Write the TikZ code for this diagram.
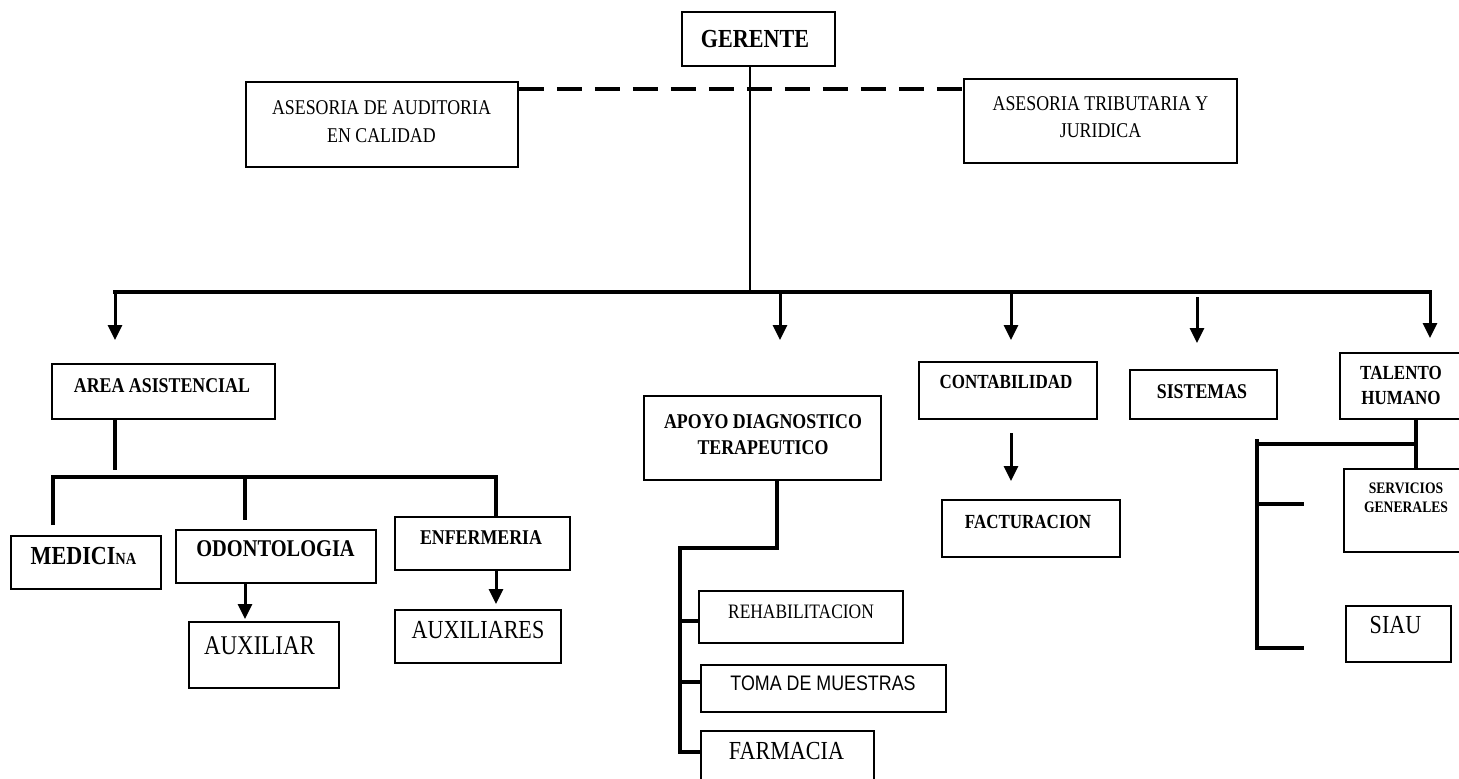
\documentclass[tikz,border=0pt]{standalone}
\usepackage{fontspec}
\setmainfont{Liberation Serif}[FakeStretch=0.85]
\newfontfamily\sansc{Liberation Sans}[FakeStretch=0.85]
\usetikzlibrary{arrows.meta,fit}
\newcommand\fsz[2]{\fontsize{#1}{#2}\selectfont}
\begin{document}
\begin{tikzpicture}[x=1pt,y=-1pt,
  box/.style={draw,line width=1.6pt,inner sep=0pt},
  lbl/.style={inner sep=0pt,align=center},
  conn/.style={line width=3.5pt,line join=miter},
  bus/.style={line width=4pt,line cap=rect,line join=miter},
  thinln/.style={line width=2pt},
  arr/.style={line width=3pt,-{Triangle[width=14pt,length=15pt]}},
  dashln/.style={line width=4.5pt,dash pattern=on 25pt off 13pt}]
\useasboundingbox (0,0) rectangle (1459,779);
\clip (0,0) rectangle (1459,779);
\fill[white] (0,0) rectangle (1459,779);

% boxes and labels
\node[box,fit={(682,12)(835,66)}] (ger) {};
\node[lbl,font=\bfseries\fsz{26}{30}] (ger-t) at (755,39) {GERENTE};
\node[box,fit={(246,82)(518,167)}] (aud) {};
\node[lbl,font=\fsz{21}{28}] (aud-t) at (381.5,122) {ASESORIA DE AUDITORIA\\EN CALIDAD};
\node[box,fit={(964,79)(1237,163)}] (trib) {};
\node[lbl,font=\fsz{21}{27}] (trib-t) at (1100.5,117.5) {ASESORIA TRIBUTARIA Y\\JURIDICA};
\node[box,fit={(52,364)(275,419)}] (area) {};
\node[lbl,font=\bfseries\fsz{21}{25}] (area-t) at (162,386) {AREA ASISTENCIAL};
\node[box,fit={(11,536)(161,589)}] (med) {};
\node[lbl,font=\bfseries\fsz{26}{30}] (med-t) at (83.5,556) {MEDICI{\fsz{17}{20}NA}};
\node[box,fit={(176,530)(376,583)}] (odo) {};
\node[lbl,font=\bfseries\fsz{24}{30}] (odo-t) at (275.5,549) {ODONTOLOGIA};
\node[box,fit={(395,517)(570,570)}] (enf) {};
\node[lbl,font=\bfseries\fsz{21}{25}] (enf-t) at (481,538) {ENFERMERIA};
\node[box,fit={(189,622)(339,688)}] (aux) {};
\node[lbl,font=\fsz{27}{30}] (aux-t) at (259.5,646) {AUXILIAR};
\node[box,fit={(395,610)(561,663)}] (auxs) {};
\node[lbl,font=\fsz{26}{30}] (auxs-t) at (478,630) {AUXILIARES};
\node[box,fit={(644,396)(881,480)}] (apo) {};
\node[lbl,font=\bfseries\fsz{21}{26}] (apo-t) at (763,435) {APOYO DIAGNOSTICO\\TERAPEUTICO};
\node[box,fit={(919,362)(1097,419)}] (cont) {};
\node[lbl,font=\bfseries\fsz{20}{24}] (cont-t) at (1006,382) {CONTABILIDAD};
\node[box,fit={(1130,370)(1277,419)}] (sis) {};
\node[lbl,font=\bfseries\fsz{21}{25}] (sis-t) at (1202,392) {SISTEMAS};
\node[box,fit={(1340,353)(1463,419)}] (tal) {};
\node[lbl,font=\bfseries\fsz{20}{25}] (tal-t) at (1401,385.5) {TALENTO\\HUMANO};
\node[box,fit={(942,500)(1120,557)}] (fac) {};
\node[lbl,font=\bfseries\fsz{20}{24}] (fac-t) at (1028,522) {FACTURACION};
\node[box,fit={(1344,469)(1463,552)}] (serv) {};
\node[lbl,font=\bfseries\fsz{16}{19}] (serv-t) at (1406,497.5) {SERVICIOS\\GENERALES};
\node[box,fit={(1346,606)(1451,662)}] (siau) {};
\node[lbl,font=\fsz{26}{30}] (siau-t) at (1395.5,625) {SIAU};
\node[box,fit={(699,591)(903,643)}] (reh) {};
\node[lbl,font=\fsz{20.5}{24}] (reh-t) at (801,612) {REHABILITACION};
\node[box,fit={(701,665)(946,712)}] (toma) {};
\node[lbl,font=\sansc\fsz{21}{24}] (toma-t) at (823,683) {TOMA DE MUESTRAS};
\node[box,fit={(701,731)(874,800)}] (farm) {};
\node[lbl,font=\fsz{26}{30}] (farm-t) at (786.5,751) {FARMACIA};

% trunk and advisory dashed line
\coordinate (tk) at (750,292);
\draw[thinln] (ger.south -| tk) -- (tk);
\coordinate (dy) at (0,89);
\draw[dashln] (aud.east |- dy) -- (trib.west |- dy);

% main bus and arrows
\coordinate (b1) at (115,292);
\coordinate (b2) at (780,292);
\coordinate (b3) at (1011,292);
\coordinate (b4) at (1197,297);
\coordinate (b5) at (1430,292);
\coordinate (e1) at (115,340);
\coordinate (e2) at (780,340);
\coordinate (e3) at (1011,340);
\coordinate (e4) at (1197,343);
\coordinate (e5) at (1430,338);
\draw[bus] (b1) -- (b5);
\draw[arr] (b1) -- (e1);
\draw[arr] (b2) -- (e2);
\draw[arr] (b3) -- (e3);
\draw[arr] (b4) -- (e4);
\draw[arr] (b5) -- (e5);

% area asistencial
\coordinate (ae) at (115,470);
\draw[conn] (area.south -| ae) -- (ae);
\coordinate (s1) at (53,525);
\coordinate (s1t) at (53,477);
\coordinate (s3t) at (496,477);
\draw[bus,line cap=butt] (s1) -- (s1t) -- (s3t) -- (enf.north -| s3t);
\coordinate (s2t) at (245,477);
\coordinate (s2) at (245,520);
\draw[conn] (s2t) -- (s2);
\coordinate (oa) at (245,619);
\draw[arr] (odo.south -| oa) -- (oa);
\coordinate (ea) at (496,604);
\draw[arr] (enf.south -| ea) -- (ea);

% apoyo diagnostico
\coordinate (p1) at (777,548);
\coordinate (p2) at (680,548);
\coordinate (p3) at (680,752);
\draw[conn] (apo.south -| p1) -- (p1) -- (p2) -- (p3) -- (farm.west |- p3);
\coordinate (q1) at (680,621);
\draw[conn] (q1) -- (reh.west |- q1);
\coordinate (q2) at (680,682);
\draw[conn] (q2) -- (toma.west |- q2);

% contabilidad -> facturacion
\coordinate (c1) at (1011,433);
\coordinate (c2) at (1011,481);
\draw[arr] (c1) -- (c2);

% talento humano
\coordinate (t1) at (1416,444);
\coordinate (t2) at (1257,444);
\draw[conn] (tal.south -| t1) -- (serv.north -| t1);
\draw[conn] (t1) -- (t2);
\coordinate (v1) at (1257,439);
\coordinate (v2) at (1257,648);
\coordinate (v3) at (1304,648);
\draw[conn] (v1) -- (v2) -- (v3);
\coordinate (w1) at (1257,504);
\coordinate (w2) at (1304,504);
\draw[conn] (w1) -- (w2);
\end{tikzpicture}
\end{document}
